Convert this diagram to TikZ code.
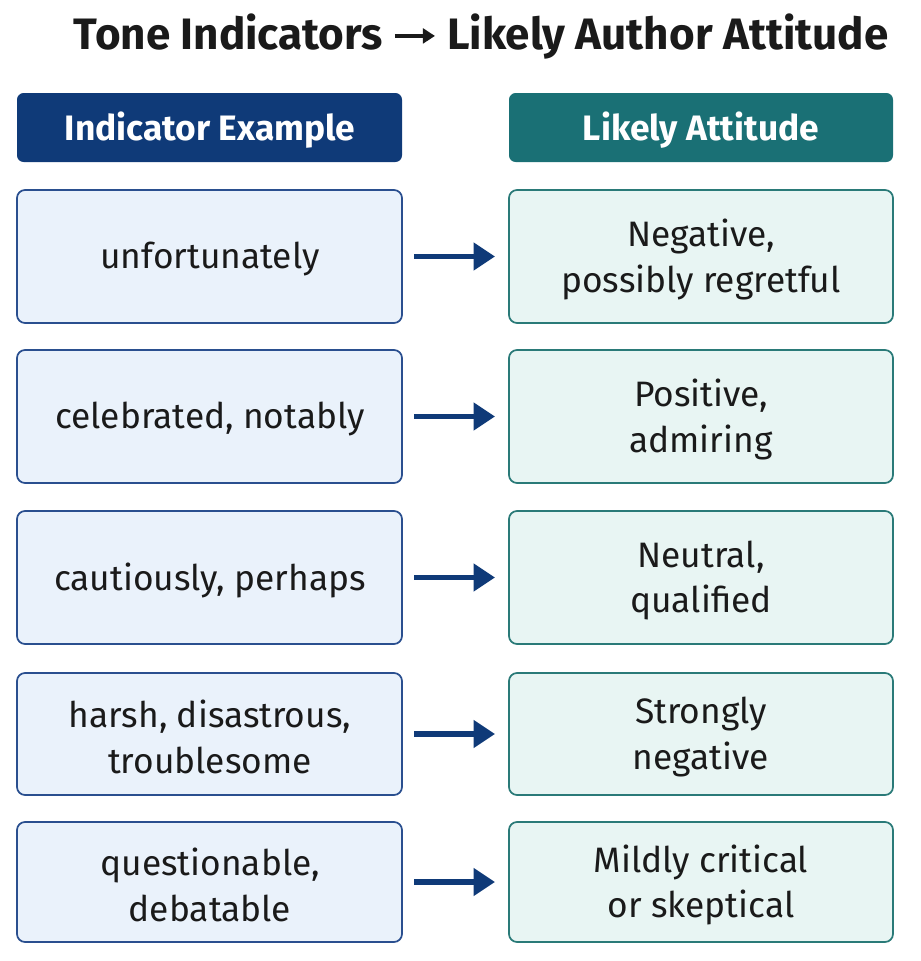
\documentclass[tikz,border=0pt]{standalone}
\usepackage{fontspec}
\setmainfont{Fira Sans}
\usetikzlibrary{arrows.meta}
\definecolor{navy}{HTML}{0F3A78}
\definecolor{teal2}{HTML}{1A7075}
\definecolor{lfill}{HTML}{EAF2FB}
\definecolor{rfill}{HTML}{E8F5F3}
\definecolor{lbord}{HTML}{2A4F8F}
\definecolor{rbord}{HTML}{2A7A78}
\definecolor{txt}{HTML}{1A1A1A}
\begin{document}
\begin{tikzpicture}[x=0.75pt,y=-0.75pt,
  hdr/.style={rounded corners=5pt,text=white,font=\fontsize{26.5}{30}\selectfont\bfseries},
  lb/.style={rounded corners=6pt,draw=lbord,line width=1.3pt,fill=lfill},
  rb/.style={rounded corners=6pt,draw=rbord,line width=1.3pt,fill=rfill},
  t/.style={text=txt,align=center,font=\fontsize{26.5}{34}\selectfont},
  arr/.style={draw=navy,line width=4pt,-{Triangle[length=16pt,width=20pt]}}]
\useasboundingbox (0,0) rectangle (921,961);
\node[text=txt,font=\fontsize{33}{38}\selectfont\bfseries] (title) at (481,37) {Tone Indicators \tikz[baseline=-0.6ex]\draw[line width=2.5pt,-{Triangle[length=9pt,width=11pt]}] (0,0) -- (30pt,0); Likely Author Attitude};
\fill[navy,rounded corners=5pt] (17,93) rectangle (402,162);
\fill[teal2,rounded corners=5pt] (509,93) rectangle (893,162);
\node[hdr] (hl) at (210,130) {Indicator Example};
\node[hdr] (hr) at (701,130) {Likely Attitude};
\foreach \i/\a/\b/\l/\r in {
 1/190/323/{unfortunately}/{Negative,\\possibly regretful},
 2/350/483/{celebrated, notably}/{Positive,\\admiring},
 3/511/644/{cautiously, perhaps}/{Neutral,\\qualified},
 4/673/795/{harsh, disastrous,\\troublesome}/{Strongly\\negative},
 5/822/942/{questionable,\\debatable}/{Mildly critical\\or skeptical}}{
 \draw[lb] (17,\a) rectangle (402,\b);
 \draw[rb] (509,\a) rectangle (893,\b);
 \node[t] (l\i) at (210,{(\a+\b)/2+3}) {\l};
 \node[t] (r\i) at (701,{(\a+\b)/2+3}) {\r};
 \coordinate (s\i) at (414,{(\a+\b)/2});
 \coordinate (e\i) at (495,{(\a+\b)/2});
 \draw[arr] (s\i) -- (e\i);
}
\end{tikzpicture}
\end{document}
